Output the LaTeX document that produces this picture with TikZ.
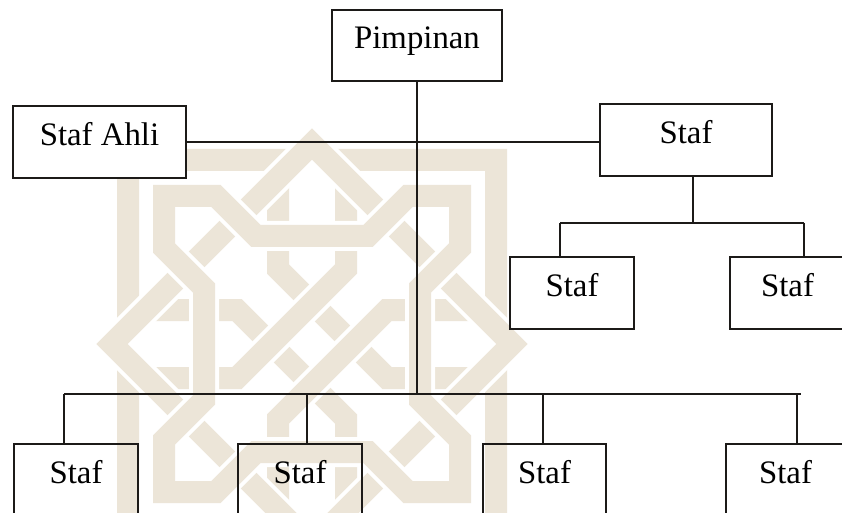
\documentclass[tikz,border=0pt]{standalone}
\usepackage{fontspec}
\setmainfont{Liberation Serif}
\definecolor{inkline}{RGB}{28,26,24}
\definecolor{wmbeige}{RGB}{236,229,216}
\newlength{\px}
\setlength{\px}{0.03cm}
\tikzset{
  unit/.style={draw=inkline, line width=1.5pt, minimum height=72\px, inner sep=0pt,
               text height=0.7em, text depth=0.18em, font=\fontsize{28pt}{32pt}\selectfont},
  link/.style={inkline, line width=1.25pt},
  band/.style={draw=wmbeige, line width=22\px, line join=miter,
               preaction={draw=white, line width=30\px}},
}

\begin{document}
\begin{tikzpicture}[x=1\px, y=-1\px]
  \useasboundingbox (0,0) rectangle (842,513);

  % knot emblem behind the chart
  \begin{scope}[shift={(312,344)}]
    \foreach \sx in {1,-1}
      \draw[band, xscale=\sx] (-34,-75) -- (-34,-184) -- (-184,-184) -- (-184,-34) -- (-75,-34)
        -- (34,75) -- (34,184) -- (184,184) -- (184,34) -- (75,34) -- cycle;
    \draw[band] (0,-200) -- (200,0) -- (0,200) -- (-200,0) -- cycle;
    \draw[band] (-148,-148) -- (-96,-148) -- (-56,-108) -- (56,-108) -- (96,-148) -- (148,-148)
      -- (148,-96) -- (108,-56) -- (108,56) -- (148,96) -- (148,148) -- (96,148) -- (56,108)
      -- (-56,108) -- (-96,148) -- (-148,148) -- (-148,96) -- (-108,56) -- (-108,-56)
      -- (-148,-96) -- cycle;
  \end{scope}

  % upper level
  \node[unit, minimum width=170\px, minimum height=71\px] (pimpinan) at (417,45.5) {Pimpinan};
  \node[unit, minimum width=173\px, fill=white] (ahli) at (99.5,142) {Staf Ahli};
  \node[unit, minimum width=172\px] (stafkanan) at (686,140) {Staf};
  \draw[link] (ahli.east) -- (ahli.east -| stafkanan.west);

  % staf under the right staf
  \node[unit, minimum width=124\px] (stafa) at (572,293) {Staf};
  \node[unit, minimum width=115\px] (stafb) at (787.5,293) {Staf};
  \coordinate (subL) at (560,223);
  \coordinate (subR) at (804,223);
  \coordinate (dk) at ([xshift=7\px]stafkanan.south);
  \draw[link] (dk) -- (dk |- subL);
  \draw[link] (subL) -- (subR);
  \draw[link] (subL) -- (subL |- stafa.north);
  \draw[link] (subR) -- (subR |- stafb.north);

  % lower level
  \coordinate (busL) at (64,394);
  \coordinate (busR) at (801,394);
  \draw[link] (pimpinan.south) -- (pimpinan.south |- busL);
  \draw[link] (busL) -- (busR);
  \foreach \n/\x/\w/\dx in {1/76/124/-12, 2/300/124/7, 3/544.5/123/-1.5, 4/785.5/119/11.5}{
    \node[unit, minimum width=\w\px] (bawah\n) at (\x,480) {Staf};
    \coordinate (d\n) at ([xshift=\dx\px]bawah\n.north);
    \draw[link] (d\n) -- (d\n |- busL);
  }
\end{tikzpicture}
\end{document}
